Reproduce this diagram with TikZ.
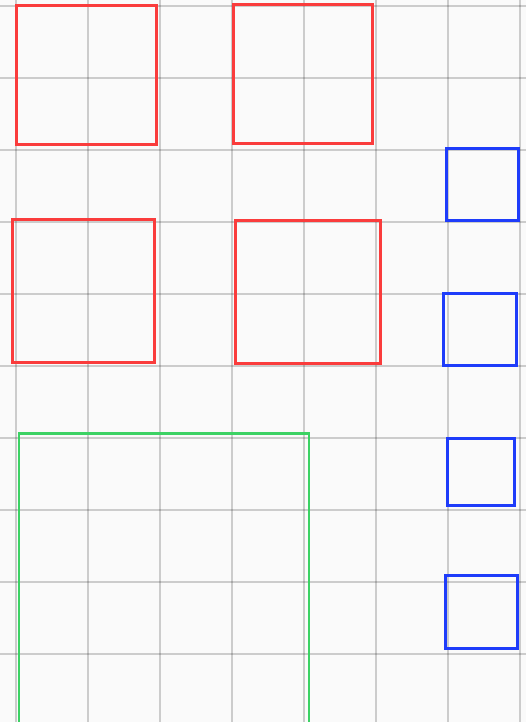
\documentclass[tikz,border=0pt]{standalone}
\usepackage{tikz}

\definecolor{boxred}{RGB}{250,60,60}
\definecolor{boxblue}{RGB}{30,60,250}
\definecolor{boxgreen}{RGB}{60,210,100}

\tikzset{
    gridline/.style={line width=2pt, black, opacity=0.18},
    redbox/.style={line width=3pt, boxred},
    bluebox/.style={line width=3pt, boxblue},
    greenbox/.style={line width=2.6pt, boxgreen}
}

\begin{document}
\begin{tikzpicture}[x=1pt, y=-1pt]
    % Fond
    \fill[white!98!black] (0,0) rectangle (526,722);
    \useasboundingbox (0,0) rectangle (526,722);

    % Grille (pas de 72)
    \foreach \gx in {15.5,87.5,...,520} {
        \draw[gridline] (\gx,0) -- (\gx,722);
    }
    \foreach \gy in {6,78,...,722} {
        \draw[gridline] (0,\gy) -- (526,\gy);
    }

    % Carres rouges
    \draw[redbox] (16,5.7) rectangle (156.3,145);
    \draw[redbox] (233.3,5) rectangle (372.3,144);
    \draw[redbox] (12.7,219.3) rectangle (154.3,362);
    \draw[redbox] (235.7,220) rectangle (380,363.7);

    % Petits carres bleus
    \draw[bluebox] (446.7,149) rectangle (518.3,220);
    \draw[bluebox] (443.7,293.3) rectangle (516.3,365);
    \draw[bluebox] (447.7,438.3) rectangle (514.7,505);
    \draw[bluebox] (445,575.7) rectangle (517.7,648.7);

    % Grand carre vert (coupe en bas)
    \draw[greenbox] (19,740) -- (19,433.3) -- (309,433.3) -- (309,740);
\end{tikzpicture}
\end{document}
